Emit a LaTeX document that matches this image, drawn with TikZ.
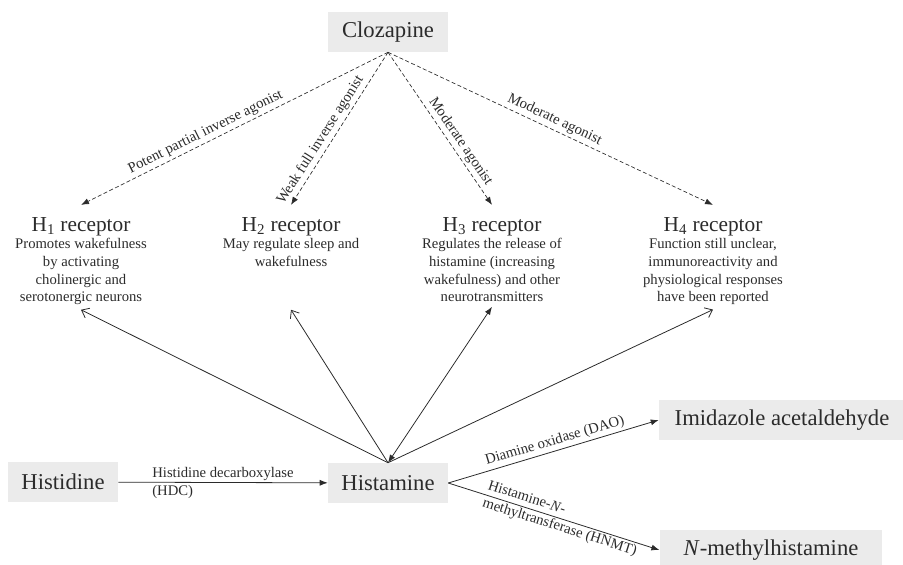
\documentclass[tikz,border=0pt]{standalone}
\usepackage{fontspec}
\setmainfont{Liberation Serif}
\usepackage{tikz}
\usetikzlibrary{arrows.meta, positioning}

\definecolor{boxgray}{HTML}{EBEBEB}
\definecolor{inkgray}{HTML}{2B2B2B}

\begin{document}
\begin{tikzpicture}[x=0.75pt, y=-0.75pt, every node/.style={text=inkgray},
    compound/.style={rectangle, fill=boxgray, minimum height=30pt, font=\fontsize{17}{20}\selectfont},
    rectitle/.style={inner xsep=2pt, inner ysep=8.9pt, font=\fontsize{16}{19}\selectfont},
    recdesc/.style={align=center, font=\fontsize{11}{13.3}\selectfont},
    elabel/.style={font=\fontsize{11}{13.5}\selectfont, inner sep=2pt},
    clz/.style={-{Latex[length=6pt, width=4.5pt]}, dash pattern=on 3pt off 1.8pt, draw=inkgray, line width=0.5pt},
    hst/.style={-{Straight Barb[length=5pt, width=8pt]}, draw=inkgray, line width=0.6pt},
    rxn/.style={-{Latex[length=6pt, width=4.5pt]}, draw=inkgray, line width=0.6pt}]
    \useasboundingbox (0,0) rectangle (903,564);

    % compounds
    \node [compound, minimum width=90pt] (cloz) at (388,32) {Clozapine};
    \node [compound, minimum width=82.5pt] (hisd) at (63,482) {Histidine};
    \node [compound, minimum width=90pt] (hist) at (388,483) {Histamine};
    \node [compound, minimum width=184.5pt] (imid) at (782,420) {Imidazole acetaldehyde};
    \node [compound, minimum width=167pt] (nmeth) at (771,550) {\textit{N}-methylhistamine};

    % receptors
    \node [rectitle, anchor=base] (h1) at (81,231) {H\textsubscript{1} receptor};
    \node [rectitle, anchor=base] (h2) at (291,231) {H\textsubscript{2} receptor};
    \node [rectitle, anchor=base] (h3) at (492,231) {H\textsubscript{3} receptor};
    \node [rectitle, anchor=base] (h4) at (713,231) {H\textsubscript{4} receptor};
    \node [recdesc, below=2pt of h1.base] (h1txt) {Promotes wakefulness\\by activating\\cholinergic and\\serotonergic neurons};
    \node [recdesc, below=2pt of h2.base] (h2txt) {May regulate sleep and\\wakefulness};
    \node [recdesc, below=2pt of h3.base] (h3txt) {Regulates the release of\\histamine (increasing\\wakefulness) and other\\neurotransmitters};
    \node [recdesc, below=2pt of h4.base] (h4txt) {Function still unclear,\\immunoreactivity and\\physiological responses\\have been reported};

    % clozapine actions
    \draw [clz] (cloz.south) -- node [elabel, sloped, above, pos=0.58] {Potent partial inverse agonist} (h1.north);
    \draw [clz] (cloz.south) -- node [elabel, sloped, above, pos=0.61] {Weak full inverse agonist} (h2.north);
    \draw [clz] (cloz.south) -- node [elabel, sloped, above, pos=0.62] {Moderate agonist} (h3.north);
    \draw [clz] (cloz.south) -- node [elabel, sloped, above, pos=0.5] {Moderate agonist} (h4.north);

    % histamine on receptors
    \draw [hst] (hist.north) -- (h1txt.south);
    \draw [hst] (hist.north) -- (h2txt |- h1txt.south);
    \draw [rxn, {Latex[length=6pt, width=4.5pt]}-{Latex[length=6pt, width=4.5pt]}] (hist.north) -- (h3txt.south);
    \draw [hst] (hist.north) -- (h4txt.south);

    % metabolism
    \draw [rxn] (hisd) -- node [elabel, align=left] {Histidine decarboxylase\\(HDC)} (hist);
    \draw [rxn] (hist.east) -- node [elabel, sloped, above, pos=0.52] {Diamine oxidase (DAO)} (imid.west);
    \draw [rxn] (hist.east) -- node [elabel, sloped, pos=0.54, align=left] {Histamine-\textit{N}-\\methyltransferase (HNMT)} (nmeth.west);
\end{tikzpicture}
\end{document}
